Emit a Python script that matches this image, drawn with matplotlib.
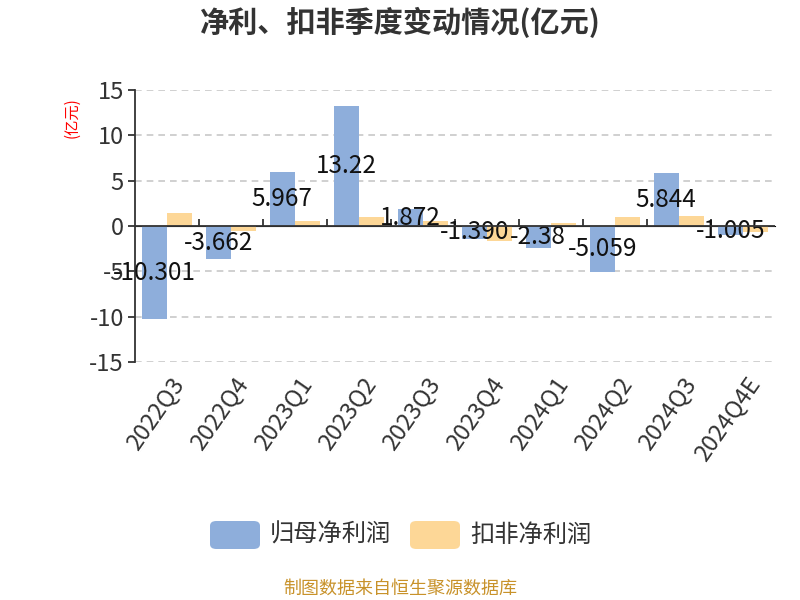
import matplotlib
matplotlib.use("Agg")
import matplotlib.pyplot as plt
import numpy as np
from matplotlib.patches import FancyBboxPatch

plt.rcParams['font.family'] = ['Noto Sans CJK SC', 'DejaVu Sans']

categories = ['2022Q3', '2022Q4', '2023Q1', '2023Q2', '2023Q3', '2023Q4',
              '2024Q1', '2024Q2', '2024Q3', '2024Q4E']
net_profit = [-10.301, -3.662, 5.967, 13.22, 1.872, -1.39, -2.38, -5.059, 5.844, -1.005]
net_labels = ['-10.301', '-3.662', '5.967', '13.22', '1.872', '-1.390', '-2.38', '-5.059', '5.844', '-1.005']
deducted_profit = [1.43, -0.5, 0.55, 1.0, 0.5, -1.6, 0.35, 1.0, 1.1, -0.65]
series_names = ['归母净利润', '扣非净利润']
yticks = [-15, -10, -5, 0, 5, 10, 15]

blue = '#8eaedb'
orange = '#fdd797'

fig = plt.figure(figsize=(8, 6), dpi=100)
ax = fig.add_axes([135/800, 1-362/600, 640/800, 272/600])

x = np.arange(len(categories))
w = 0.39
ax.bar(x - 0.2, net_profit, width=w, color=blue, zorder=2)
ax.bar(x + 0.2, deducted_profit, width=w, color=orange, zorder=2)

for xi, v, lab in zip(x, net_profit, net_labels):
    ax.text(xi - 0.2, v / 2, lab, ha='center', va='center', fontsize=17.5, color='#111111', zorder=3)

ax.set_xlim(-0.5, len(categories) - 0.5)
ax.set_ylim(-15, 15)
ax.set_yticks(yticks)
ax.set_yticklabels([str(t) for t in yticks], fontsize=17, color='#333333')
for t in yticks:
    if t != 0:
        ax.axhline(t, color='#c8c8c8', linestyle=(0, (4, 3)), linewidth=1.2, zorder=1)
ax.axhline(0, color='#333333', linewidth=1.3, zorder=3)

ax.set_xticks(x + 0.05)
ax.set_xticklabels(categories, rotation=55, ha='right', rotation_mode='anchor', fontsize=17, color='#333333')
ax.tick_params(axis='x', length=0, pad=8)
ax.tick_params(axis='y', length=5, color='#333333', width=1.3, pad=3)

for s in ['top', 'right', 'bottom']:
    ax.spines[s].set_visible(False)
ax.spines['left'].set_color('#333333')
ax.spines['left'].set_linewidth(1.3)

sec = ax.secondary_xaxis(0.5)
sec.set_xticks(np.arange(0.5, len(categories) - 0.5, 1.0))
sec.set_xticklabels([])
sec.tick_params(length=5, color='#333333', width=1.3, direction='out')
sec.spines['bottom'].set_visible(False)

fig.text(0.5, 1 - 22/600, '净利、扣非季度变动情况(亿元)', ha='center', va='center',
         fontsize=21, fontweight='bold', color='#333333')
fig.text(72/800, 1 - 118/600, '(亿元)', ha='center', va='center', rotation=90,
         fontsize=11, color='red')

# legend
for lx, name, col in [(210, series_names[0], blue), (410, series_names[1], orange)]:
    p = FancyBboxPatch((lx/800, 1-549/600), 50/800, 28/600,
                       boxstyle='round,pad=0,rounding_size=0.008', transform=fig.transFigure,
                       facecolor=col, edgecolor='none')
    fig.patches.append(p)
    fig.text((lx + 60)/800, 1 - 535/600, name, ha='left', va='center', fontsize=17.5, color='#333333')

fig.text(0.5, 1 - 589/600, '制图数据来自恒生聚源数据库', ha='center', va='center',
         fontsize=13, color='#c8922a')

fig.savefig('out.png', dpi=100)
